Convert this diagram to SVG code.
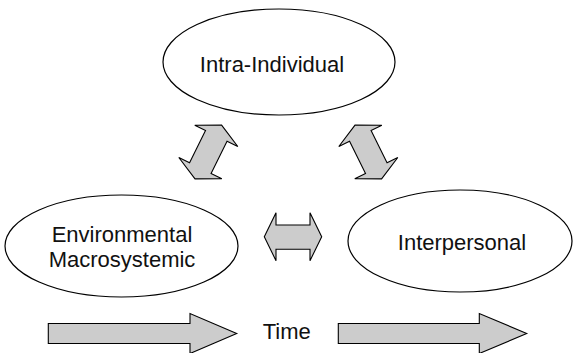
<svg xmlns="http://www.w3.org/2000/svg" width="573" height="353" viewBox="0 0 573 353">
<style>
.node{fill:#fff;stroke:#000;stroke-width:1.2}
.lbl{font-family:"Liberation Sans",Arial,sans-serif;font-size:22px;fill:#111;text-anchor:middle}
.arr{fill:#cccccc;stroke:#000;stroke-width:1.1;stroke-linejoin:miter}
</style>
<defs>
<path id="dbl" d="M -30,0 L -18,-24 L -18,-12 L 18,-12 L 18,-24 L 30,0 L 18,24 L 18,12 L -18,12 L -18,24 Z"/>
</defs>
<rect width="573" height="353" fill="#fff"/>
<g id="intra-individual">
<ellipse class="node" cx="279" cy="62" rx="116" ry="53"/>
<text class="lbl" x="272" y="72">Intra-Individual</text>
</g>
<g id="environmental-macrosystemic">
<ellipse class="node" cx="121.5" cy="246" rx="116.5" ry="51"/>
<text class="lbl" x="122" y="242">Environmental</text>
<text class="lbl" x="122" y="267">Macrosystemic</text>
</g>
<g id="interpersonal">
<ellipse class="node" cx="460" cy="241" rx="112" ry="51"/>
<text class="lbl" x="462" y="250">Interpersonal</text>
</g>
<g id="connectors">
<use href="#dbl" class="arr" transform="translate(208.3,152) rotate(-63.7)"/>
<use href="#dbl" class="arr" transform="translate(368.3,152) rotate(63.7)"/>
<path class="arr" d="M 264.3,236.7 L 276,212.7 L 276,225 L 310,225 L 310,212.7 L 321.7,236.7 L 310,260.7 L 310,249.3 L 276,249.3 L 276,260.7 Z"/>
<path class="arr" d="M 48.3,323.5 L 190,323.5 L 190,313.5 L 236.7,333.5 L 190,353.5 L 190,343.5 L 48.3,343.5 Z"/>
<path class="arr" d="M 338.3,323.5 L 479.3,323.5 L 479.3,313.5 L 526.7,333.5 L 479.3,353.5 L 479.3,343.5 L 338.3,343.5 Z"/>
</g>
<g id="time">
<text class="lbl" x="286.7" y="339.3">Time</text>
</g>
</svg>
